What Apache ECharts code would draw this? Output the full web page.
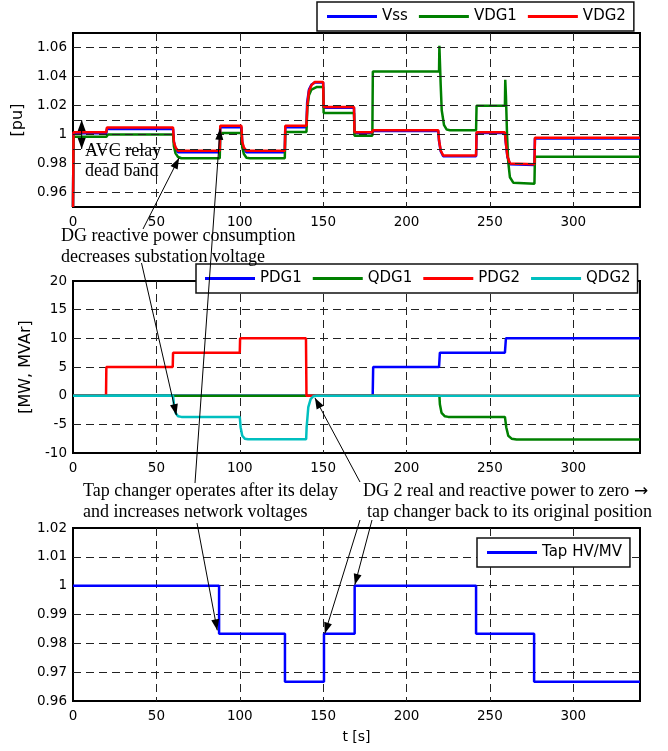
<!DOCTYPE html>
<html>
<head>
<meta charset="utf-8">
<script src="https://cdn.jsdelivr.net/npm/echarts@6/dist/echarts.min.js"></script>
<style>
html, body { margin: 0; padding: 0; background: #fff; }
#main { width: 668px; height: 751px; }
</style>
</head>
<body>
<div id="main"></div>
<script>
// ---- data, [t (s), value] ----
const VSS = [[0,0.95],[0.3,1.0008],[20,1.0008],[20.3,1.0038],[60,1.0038],[60.5,0.995],[61.5,0.9905],[63,0.9877],[88,0.9877],[88.3,1.005],[101,1.005],[101.5,0.994],[102.5,0.990],[104,0.9878],[127,0.9878],[127.3,1.005],[140,1.005],[140.4,1.022],[141.5,1.031],[143,1.0345],[145,1.0358],[150,1.0358],[150.3,1.0185],[168.5,1.0185],[168.8,1.001],[179.5,1.001],[179.8,1.0025],[219,1.0025],[219.5,0.9955],[220.5,0.9885],[222,0.985],[241.7,0.985],[242,1.001],[259,1.001],[259.5,0.9945],[260.5,0.9845],[262,0.9795],[276.7,0.979],[277,0.9972],[340,0.9972]];
const VDG1 = [[0,0.95],[0.3,0.9984],[20,0.9984],[21,1.0],[60,1.0],[60.5,0.992],[61.5,0.987],[63,0.9845],[65,0.9836],[88,0.9836],[88.3,1.0011],[101,1.0011],[101.5,0.991],[102.5,0.9865],[104,0.984],[106,0.9836],[127,0.9836],[127.3,1.0018],[140,1.0018],[140.5,1.018],[141.5,1.027],[143,1.031],[146,1.0327],[150,1.0327],[150.3,1.0148],[168.5,1.0148],[168.8,0.9992],[179.5,0.9992],[179.8,1.0434],[219.5,1.0434],[219.7,1.0612],[220.5,1.0338],[221.1,1.0167],[222.5,1.0064],[224.1,1.0034],[226,1.003],[241.7,1.003],[242,1.0199],[259,1.0199],[259.2,1.0377],[259.6,1.027],[260.3,0.999],[261,0.981],[262,0.9705],[264,0.9668],[276.7,0.966],[277,0.9847],[340,0.9847]];
const VDG2 = [[0,0.95],[0.3,1.0016],[20,1.0016],[20.3,1.0048],[60,1.0048],[60.5,0.995],[61.5,0.991],[63,0.9888],[88,0.9888],[88.3,1.006],[101,1.006],[101.5,0.995],[102.5,0.991],[104,0.9888],[127,0.9888],[127.3,1.006],[140,1.006],[140.5,1.02],[141.5,1.03],[143,1.034],[145,1.0362],[150,1.0362],[150.3,1.019],[168.5,1.019],[168.8,1.0015],[179.5,1.0015],[179.8,1.003],[219,1.003],[219.5,0.996],[220.5,0.989],[222,0.9855],[241.7,0.9855],[242,1.0015],[259,1.0015],[259.5,0.995],[260.5,0.985],[262,0.980],[276.7,0.9795],[277,0.9977],[340,0.9977]];

const PDG1 = [[0,0],[179.7,0],[180,5],[219.5,5],[220,7.5],[259,7.5],[259.6,10],[340,10]];
const QDG1 = [[0,0],[219.7,0],[220,-1.5],[221,-3],[223,-3.6],[225,-3.7],[259,-3.7],[259.8,-5.5],[261,-7],[263,-7.5],[266,-7.65],[340,-7.65]];
const PDG2 = [[0,0],[19.8,0],[20,5],[59.8,5],[60,7.5],[100,7.5],[100.2,10],[139.7,10],[140,0],[340,0]];
const QDG2 = [[0,0],[60,0],[60.5,-1.5],[61.5,-3],[63,-3.6],[65,-3.7],[100,-3.7],[100.5,-5.5],[101.5,-7],[103,-7.5],[105,-7.6],[139.8,-7.6],[140.1,-5.5],[141.1,-2],[142.5,-0.6],[144.1,-0.1],[146,0],[340,0]];

const TAP = [[0,1],[87.6,1],[87.6,0.98333],[127.1,0.98333],[127.1,0.96667],[150.5,0.96667],[150.5,0.98333],[168.9,0.98333],[168.9,1],[241.7,1],[241.7,0.98333],[276.5,0.98333],[276.5,0.96667],[340,0.96667]];

const TOP_LABELS = [0.96, 0.98, 1, 1.02, 1.04, 1.06];
const TOP_GRID = [0.96, 0.98, 0.99, 1, 1.01, 1.02, 1.04, 1.06];

const SANS = 'DejaVu Sans';
const SERIF = '"Liberation Serif", "Times New Roman", serif';

const chart = echarts.init(document.getElementById('main'));

const dash = { color: '#222', type: [8, 5], width: 1 };

function xAx(i, name) {
    return {
        gridIndex: i, type: 'value', min: 0, max: 340, interval: 50,
        name: name || '', nameLocation: 'middle', nameGap: 29,
        nameTextStyle: { fontFamily: SANS, fontSize: 14, color: '#000' },
        axisLine: { show: false }, axisTick: { show: false },
        axisLabel: { margin: 8, fontFamily: SANS, fontSize: 13.5, color: '#000',
            formatter: v => (v > 300 ? '' : String(v)) },
        splitLine: { show: true, showMinLine: false, showMaxLine: false, lineStyle: dash }
    };
}

function yAx(i, min, max, interval, name, gap, opts) {
    return Object.assign({
        gridIndex: i, type: 'value', min: min, max: max, interval: interval,
        name: name || '', nameLocation: 'middle', nameGap: gap || 40,
        nameTextStyle: { fontFamily: SANS, fontSize: 16, color: '#000' },
        axisLine: { show: false }, axisTick: { show: false },
        axisLabel: { margin: 6, fontFamily: SANS, fontSize: 13.5, color: '#000',
            formatter: v => String(+(+v).toFixed(2)) },
        splitLine: { show: true, showMinLine: false, showMaxLine: false, lineStyle: dash }
    }, opts || {});
}

function line(name, data, color, gi) {
    return {
        name: name, type: 'line', xAxisIndex: gi, yAxisIndex: gi, data: data,
        symbol: 'none', showSymbol: false,
        lineStyle: { color: color, width: 2.5 },
        itemStyle: { color: color },
        z: 3
    };
}

function legendBox(names, left, top, padding) {
    return {
        data: names, left: left, top: top, orient: 'horizontal',
        icon: 'rect', itemWidth: 50, itemHeight: 3, itemGap: 11,
        padding: padding, borderColor: '#111', borderWidth: 1.5, backgroundColor: '#fff',
        selectedMode: false,
        textStyle: { fontFamily: SANS, fontSize: 15, color: '#000' }
    };
}

const option = {
    animation: false,
    backgroundColor: '#fff',
    grid: [
        { left: 73, top: 33, width: 567, height: 174 },
        { left: 73, top: 281, width: 567, height: 172 },
        { left: 73, top: 528, width: 567, height: 173 }
    ].map(g => Object.assign(g, { show: true, borderColor: '#000', borderWidth: 2, backgroundColor: 'transparent' })),
    legend: [
        legendBox(['Vss', 'VDG1', 'VDG2'], 317, 2, [7, 8, 7, 10]),
        legendBox(['PDG1', 'QDG1', 'PDG2', 'QDG2'], 196, 264, [7, 7, 7, 9]),
        legendBox(['Tap HV/MV'], 477, 538, [7, 8, 7, 10])
    ],
    xAxis: [xAx(0), xAx(1), xAx(2, 't [s]')],
    yAxis: [
        yAx(0, 0.95, 1.07, 0.01, '[pu]', 41, {
            axisLabel: { margin: 6, fontFamily: SANS, fontSize: 13.5, color: '#000',
                formatter: v => {
                    const r = +(+v).toFixed(2);
                    return TOP_LABELS.indexOf(r) >= 0 ? String(r) : '';
                } },
            splitLine: { show: false }
        }),
        yAx(1, -10, 20, 5, '[MW, MVAr]', 32),
        yAx(2, 0.96, 1.02, 0.01)
    ],
    series: [
        {
            name: 'grid-top', type: 'line', xAxisIndex: 0, yAxisIndex: 0, data: [],
            z: 1, silent: true,
            markLine: {
                silent: true, symbol: 'none', label: { show: false },
                lineStyle: dash,
                data: TOP_GRID.map(v => ({ yAxis: v }))
            }
        },
        line('Vss', VSS, '#0000ff', 0),
        line('VDG1', VDG1, '#008000', 0),
        line('VDG2', VDG2, '#ff0000', 0),
        line('PDG1', PDG1, '#0000ff', 1),
        line('QDG1', QDG1, '#008000', 1),
        line('PDG2', PDG2, '#ff0000', 1),
        line('QDG2', QDG2, '#00bfbf', 1),
        line('Tap HV/MV', TAP, '#0000ff', 2)
    ]
};

chart.setOption(option);

// ---- annotations ----
function px(gi, p) {
    return chart.convertToPixel({ gridIndex: gi }, p);
}

function head(from, to) {
    const dx = to[0] - from[0], dy = to[1] - from[1];
    const len = Math.sqrt(dx * dx + dy * dy) || 1;
    const ux = dx / len, uy = dy / len;
    const L = 11, W = 4;
    const bx = to[0] - ux * L, by = to[1] - uy * L;
    return {
        type: 'polygon', z: 100, silent: true,
        shape: { points: [to, [bx - uy * W, by + ux * W], [bx + uy * W, by - ux * W]] },
        style: { fill: '#000' }
    };
}

function arrow(from, to, both) {
    const els = [{
        type: 'line', z: 100, silent: true,
        shape: { x1: from[0], y1: from[1], x2: to[0], y2: to[1] },
        style: { stroke: '#000', lineWidth: 1 }
    }, head(from, to)];
    if (both) els.push(head(to, from));
    return els;
}

function label(text, x, y, font) {
    return {
        type: 'text', x: x, y: y, z: 100, silent: true,
        style: { text: text, font: font || ('18px ' + SERIF), fill: '#000', verticalAlign: 'middle' }
    };
}

let g = [];
g = g.concat(arrow(px(0, [5.2, 1.01]), px(0, [5.2, 0.99]), true));
g = g.concat(arrow([143, 229], px(0, [63.6, 0.9838])));
g = g.concat(arrow([141.5, 263], px(1, [62, -3.4])));
g = g.concat(arrow([195, 483], px(0, [88.2, 1.004])));
g = g.concat(arrow([197, 523], px(2, [86.5, 0.9845])));
g = g.concat(arrow([360, 520], px(2, [151, 0.9834])));
g = g.concat(arrow([372, 520], px(2, [169, 1.0003])));
g = g.concat(arrow([360, 482], px(1, [145.1, -0.4])));

g.push(label('AVC relay', 85, 151.5));
g.push(label('dead band', 85, 171.5));
g.push(label('DG reactive power consumption', 61, 236));
g.push(label('decreases substation voltage', 61, 257));
g.push(label('Tap changer operates after its delay', 83, 491.5));
g.push(label('and increases network voltages', 83, 512.5));
g.push(label('DG 2 real and reactive power to zero', 363, 491.5));
g.push(label('\u2192', 634, 492, '17px "DejaVu Sans"'));
g.push(label('tap changer back to its original position', 367, 512.5));

chart.setOption({ graphic: g });
</script>
</body>
</html>
